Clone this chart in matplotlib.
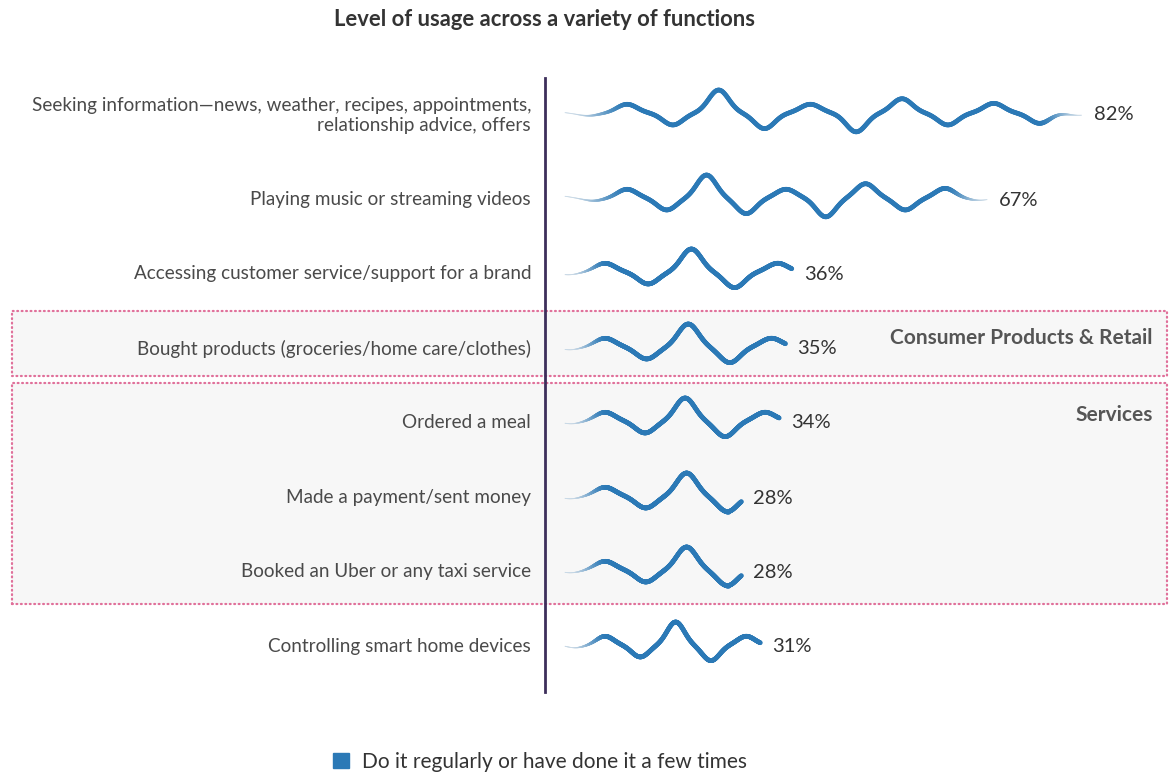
import numpy as np
import matplotlib
matplotlib.use('Agg')
import matplotlib.pyplot as plt
from matplotlib.collections import LineCollection
from matplotlib.patches import Rectangle, Patch
from matplotlib.colors import to_rgb

plt.rcParams['font.family'] = ['Lato', 'DejaVu Sans']

# data
labels = ['Seeking information\u2014news, weather, recipes, appointments,\nrelationship advice, offers',
          'Playing music or streaming videos',
          'Accessing customer service/support for a brand',
          'Bought products (groceries/home care/clothes)',
          'Ordered a meal',
          'Made a payment/sent money',
          'Booked an Uber or any taxi service',
          'Controlling smart home devices']
values = [82, 67, 36, 35, 34, 28, 28, 31]
groups = ['Consumer Products & Retail', 'Services']
title = 'Level of usage across a variety of functions'
legend_label = 'Do it regularly or have done it a few times'

W, H = 1169, 774
row_y = [113, 198, 272, 347, 421, 496, 570, 645]   # layout, px from top
blue = '#2b79b6'
light = '#c9d9e6'
txt = '#4a4a4a'

fig = plt.figure(figsize=(W/100, H/100), dpi=100)
fig.patch.set_facecolor('white')

# dotted group boxes (figure pixel coords)
def box(top, bottom):
    r = Rectangle((12/W, 1 - bottom/H), (1167-12)/W, (bottom-top)/H,
                  transform=fig.transFigure, facecolor='#f7f7f7',
                  edgecolor='#e0709a', lw=1.6, linestyle=(0, (0.4, 1.6)),
                  zorder=-1)
    r.set_capstyle('round')
    fig.patches.append(r)
box(311, 376)
box(383, 604)

ax_left, ax_top, ax_bot = 545, 78, 692
ax = fig.add_axes([ax_left/W, 1 - ax_bot/H, (W-ax_left)/W, (ax_bot-ax_top)/H])
ax.set_facecolor('none')
ppu = 6.3                       # px per percent
xmin = -20/ppu
ax.set_xlim(xmin, xmin + (W-ax_left)/ppu)
ax.set_ylim(ax_bot, ax_top)

motif = np.array([0.38, -0.52, 1.0, -0.68, 0.38, -0.82, 0.62, -0.52, 0.42, -0.45, 0.4])
amp_px = 23

def smooth(a, b, u):
    t = np.clip((u - a)/(b - a), 0, 1)
    return t*t*(3 - 2*t)

for v, y0 in zip(values, row_y):
    Lp = v*ppu
    n = max(4, int(round(Lp/55)) + 1)
    long_bar = Lp > 300
    first, gap = (62, 42) if long_bar else (40, 14)
    s = (Lp - first - gap)/(n - 1)
    cen = np.r_[first - 1.7*s, first - 0.85*s, first + s*np.arange(n)]
    amp = np.r_[0.09, -0.12, motif[:n]]*amp_px
    if long_bar:
        cen = np.r_[cen, first + s*(n - 1) + 0.85*s]
        amp = np.r_[amp, -0.1*amp_px]
    sig = min(0.24*s, 10)
    u = np.linspace(0, Lp, 600)
    off = (amp[None, :]*np.exp(-0.5*((u[:, None] - cen[None, :])/sig)**2)).sum(1)
    x = u/ppu
    y = y0 - off
    pts = np.column_stack([x, y]).reshape(-1, 1, 2)
    segs = np.concatenate([pts[:-1], pts[1:]], axis=1)
    um = 0.5*(u[:-1] + u[1:])
    k = smooth(5, first + 5, um)
    if long_bar:
        k = k*smooth(Lp, Lp - gap, um)
    lw = 0.6 + 2.8*k
    c0, c1 = np.array(to_rgb(light)), np.array(to_rgb(blue))
    cols = c0[None, :]*(1 - k[:, None]) + c1[None, :]*k[:, None]
    lc = LineCollection(segs, linewidths=lw, colors=cols, capstyle='round')
    ax.add_collection(lc)
    ax.text(v + 12/ppu, y0 + 2, f'{v}%', ha='left', va='center',
            fontsize=14.5, color='#333333')

ax.set_yticks(row_y)
ax.set_yticklabels(labels, fontsize=13.6, color=txt, multialignment='right')
ax.tick_params(axis='y', length=0, pad=10)
ax.set_xticks([])
for sp in ['top', 'right', 'bottom']:
    ax.spines[sp].set_visible(False)
ax.spines['left'].set_color('#3d2f5b')
ax.spines['left'].set_linewidth(2)

fig.text(1153/W, 1 - 338/H, groups[0], ha='right', va='center',
         fontsize=15, fontweight='bold', color='#555555')
fig.text(1153/W, 1 - 415/H, groups[1], ha='right', va='center',
         fontsize=15, fontweight='bold', color='#555555')

fig.text(545/W, 1 - 19/H, title, ha='center', va='center',
         fontsize=15.8, fontweight='bold', color='#333333')

fig.legend(handles=[Patch(color=blue, label=legend_label)], loc='center',
           bbox_to_anchor=(540/W, 1 - 762/H), frameon=False,
           handlelength=0.75, handleheight=0.75, handletextpad=0.6,
           prop={'size': 15}, labelcolor='#333333')

fig.savefig('out.png', dpi=100)
